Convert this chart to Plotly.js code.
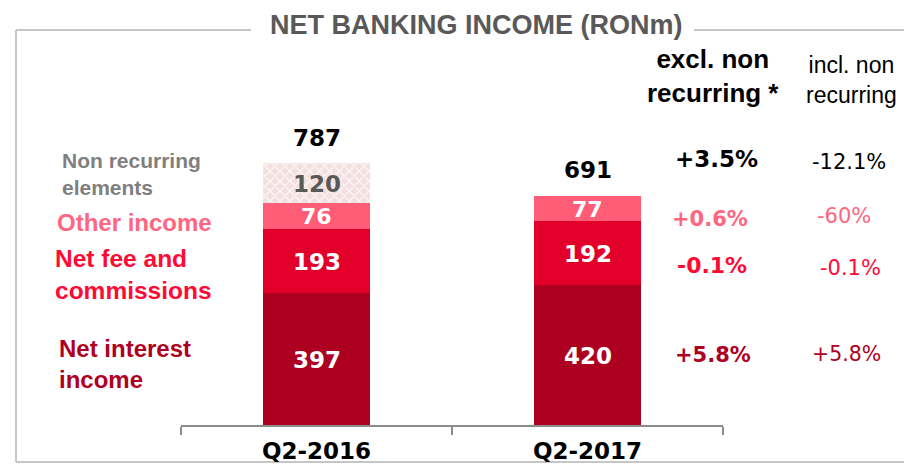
<!DOCTYPE html>
<html>
<head>
<meta charset="utf-8">
<script src="https://cdn.plot.ly/plotly-3.0.1.min.js"></script>
<style>html,body{margin:0;padding:0;background:#fff;}#chart{width:904px;height:466px;}</style>
</head>
<body>
<div id="chart"></div>
<script>
// ---- data ----
const categories = ['Q2-2016', 'Q2-2017'];
const netInterest = [397, 420];
const netFee = [193, 192];
const otherIncome = [76, 77];
const nonRecurring = [120, 0];
const totals = [787, 691];
const seriesLabels = ['Net interest\nincome', 'Net fee and\ncommissions', 'Other income', 'Non recurring\nelements'];
const changeExcl = ['+5.8%', '-0.1%', '+0.6%', '+3.5%'];   // interest, fee, other, total
const changeIncl = ['+5.8%', '-0.1%', '-60%', '-12.1%'];
const title = 'NET BANKING INCOME (RONm)';
const headExcl = 'excl. non<br>recurring *';
const headIncl = 'incl. non<br>recurring';

// ---- layout helpers ----
const W = 904, H = 466, L = 181, R = 181, T = 92, B = 41;
const pw = W - L - R, ph = H - T - B;
const px = x => (x - L) / pw;
const py = y => (H - B - y) / ph;

const cInt = '#ad0020', cFee = '#e2002b', cOther = '#ff5c77';
const lInt = '#b0001f', lFee = '#ff0a35', lOther = '#ff6680', lNon = '#7f7f7f';
const ARIAL = 'Liberation Sans, Arial, sans-serif';
const VERD = 'DejaVu Sans, Verdana, sans-serif';

const traces = [
  {type: 'bar', x: categories, y: netInterest, marker: {color: cInt}, hoverinfo: 'none'},
  {type: 'bar', x: categories, y: netFee, marker: {color: cFee}, hoverinfo: 'none'},
  {type: 'bar', x: categories, y: otherIncome, marker: {color: cOther}, hoverinfo: 'none'},
  {type: 'bar', x: categories, y: nonRecurring, hoverinfo: 'none',
   marker: {color: '#f5e3e3', pattern: {shape: 'x', fgcolor: '#fdf6f6', bgcolor: '#f3dfdf', size: 7, solidity: 0.35}}}
];

const ann = [];
const A = o => ann.push(Object.assign({showarrow: false, xanchor: 'center', yanchor: 'middle'}, o));

// segment value labels
const segs = [
  {v: netInterest, color: '#ffffff', size: 23},
  {v: netFee, color: '#ffffff', size: 23},
  {v: otherIncome, color: '#ffffff', size: 22},
  {v: nonRecurring, color: '#595959', size: 23}
];
categories.forEach((c, i) => {
  let base = 0;
  segs.forEach(s => {
    const val = s.v[i];
    if (val > 0) {
      A({x: c, y: base + val / 2, xref: 'x', yref: 'y', text: '<b>' + val + '</b>',
        yshift: -1, font: {family: VERD, size: s.size, color: s.color}});
    }
    base += val;
  });
  A({x: c, y: totals[i], xref: 'x', yref: 'y', text: '<b>' + totals[i] + '</b>',
    yanchor: 'bottom', yshift: 10, font: {family: VERD, size: 23, color: '#000'}});
});

// left series labels
const leftLab = [
  {t: seriesLabels[3], x: 60, y: 174, c: lNon, s: 21},
  {t: seriesLabels[2], x: 55, y: 222, c: lOther, s: 24},
  {t: seriesLabels[1], x: 53, y: 274, c: lFee, s: 24.5},
  {t: seriesLabels[0], x: 57, y: 364, c: lInt, s: 24}
];
leftLab.forEach(o => A({xref: 'paper', yref: 'paper', x: px(o.x), y: py(o.y), xanchor: 'left',
  align: 'left', text: '<b>' + o.t.replace('\n', '<br>') + '</b>', font: {family: ARIAL, size: o.s, color: o.c}}));

// change columns
const rowCol = [lInt, lFee, lOther, '#000'];
const exX = [713, 712, 710, 716], exY = [355, 265, 219, 159], exS = [21, 22, 21, 23];
const inX = [846, 850, 844, 849], inY = [354, 268, 216, 162], inS = [20.5, 21, 21, 21];
for (let k = 0; k < 4; k++) {
  A({xref: 'paper', yref: 'paper', x: px(exX[k]), y: py(exY[k]),
    text: '<b>' + changeExcl[k] + '</b>', font: {family: VERD, size: exS[k], color: rowCol[k]}});
  A({xref: 'paper', yref: 'paper', x: px(inX[k]), y: py(inY[k]),
    text: changeIncl[k], font: {family: VERD, size: inS[k], color: rowCol[k]}});
}
// column headers
A({xref: 'paper', yref: 'paper', x: px(713), y: py(76), align: 'center',
  text: '<b>' + headExcl + '</b>', font: {family: ARIAL, size: 26, color: '#000'}});
A({xref: 'paper', yref: 'paper', x: px(851), y: py(80), align: 'center',
  text: headIncl, font: {family: ARIAL, size: 23, color: '#000'}});
// title
A({xref: 'paper', yref: 'paper', x: px(476), y: py(25),
  text: '<b>' + title + '</b>', font: {family: ARIAL, size: 27, color: '#595959'}});

const frameC = '#c6c6c6';
const ln = (x0, y0, x1, y1) => ({type: 'line', layer: 'below', xref: 'paper', yref: 'paper',
  x0: px(x0), x1: px(x1), y0: py(y0), y1: py(y1), line: {color: frameC, width: 2}});
const shapes = [ln(16, 30, 16, 462), ln(16, 30, 251, 30), ln(694, 30, 904, 30), ln(16, 462, 904, 462)];

const layout = {
  width: W, height: H,
  margin: {l: L, r: R, t: T, b: B, pad: 0},
  paper_bgcolor: '#fff', plot_bgcolor: 'rgba(0,0,0,0)',
  barmode: 'stack', bargap: 0.605,
  showlegend: false,
  xaxis: {type: 'category', range: [-0.5, 1.5], showline: true, linecolor: '#8c8c8c', linewidth: 2,
    ticks: 'outside', tickson: 'boundaries', ticklen: 8, tickcolor: '#8c8c8c', tickwidth: 2,
    ticklabelstandoff: 4,
    showgrid: false, zeroline: false, fixedrange: true,
    tickfont: {family: VERD, size: 23, color: '#000', weight: 'bold'}},
  yaxis: {range: [0, 1000], visible: false, showgrid: false, zeroline: false, fixedrange: true},
  annotations: ann,
  shapes: shapes
};

Plotly.newPlot('chart', traces, layout, {staticPlot: true, displayModeBar: false});
</script>
</body>
</html>
